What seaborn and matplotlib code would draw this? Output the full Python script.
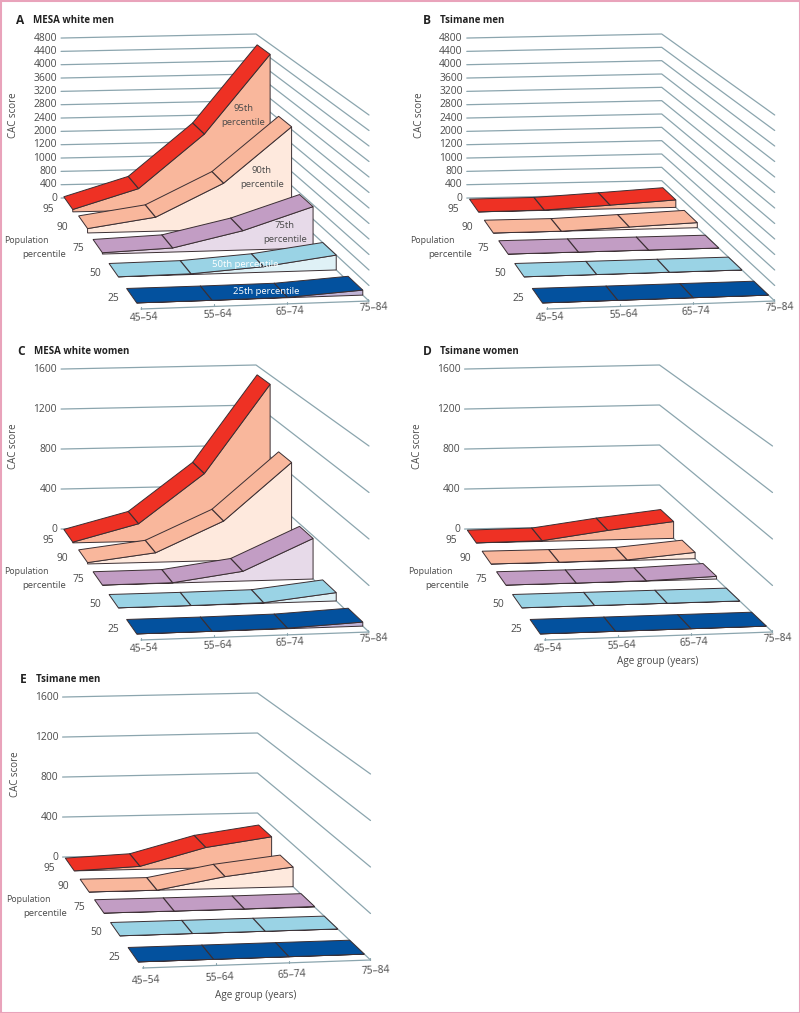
import matplotlib
matplotlib.use('Agg')
import matplotlib.pyplot as plt
from matplotlib.patches import Rectangle
import numpy as np
import pandas as pd
import seaborn as sns

age_groups = ['45–54', '55–64', '65–74', '75–84']
percentiles = [95, 90, 75, 50, 25]

# the men's MESA/Tsimane axis is not evenly spaced, the labels really do go 1000, 1200, 2000
ticks_men = [0, 400, 800, 1000, 1200, 2000, 2400, 2800, 3200, 3600, 4000, 4400, 4800]
ticks_women = [0, 400, 800, 1200, 1600]

# CAC score per percentile, one value per age group
mesa_men = {95: [70, 640, 2200, 4500],
            90: [125, 400, 1060, 2880],
            75: [36, 113, 536, 974],
            50: [0, 20, 150, 400],
            25: [0, 0, 10, 130]}
tsimane_men_b = {95: [0, 10, 110, 220],
                 90: [0, 0, 70, 145],
                 75: [0, 0, 0, 0],
                 50: [0, 0, 0, 0],
                 25: [0, 0, 0, 0]}
mesa_women = {95: [7, 173, 650, 1510],
              90: [13, 90, 375, 916],
              75: [0, 3, 90, 375],
              50: [0, 0, 5, 75],
              25: [0, 0, 5, 35]}
tsimane_women = {95: [0, 7, 93, 165],
                 90: [0, 0, 5, 60],
                 75: [0, 0, 2, 25],
                 50: [0, 0, 0, 0],
                 25: [0, 0, 0, 0]}
tsimane_men_e = {95: [0, 30, 200, 290],
                 90: [0, 0, 113, 187],
                 75: [0, 0, 1, 5],
                 50: [0, 0, 0, 0],
                 25: [0, 0, 0, 0]}

top_colors = {95: '#EE3124', 90: '#F9B79C', 75: '#C29DC4', 50: '#9AD3E5', 25: '#03519E'}
wall_colors = {95: '#F9B79C', 90: '#FEE9DD', 75: '#E7DAE9', 50: '#DFF1F6', 25: '#BFB3D6'}
edge_color = '#3B2F33'
grid_color = '#8BA5AE'
text_color = '#4A4A4A'

# depth of each strip on the floor, 0 is the back wall and 1 the age axis
strip_depth = {95: (0.01, 0.125), 90: (0.2, 0.315), 75: (0.385, 0.505), 50: (0.59, 0.71), 25: (0.815, 0.945)}

# label places relative to panel A, in pixels
pct_label_pos = {95: (48, 209), 90: (62, 227), 75: (78, 248), 50: (95, 273), 25: (113, 298)}
age_tick_x = [141, 214, 287, 368]
age_label_pos = [(144, 318), (218, 315), (290, 312), (374, 308)]

sns.set_theme(style='white')
plt.rcParams['font.family'] = ['Open Sans', 'DejaVu Sans']

fig = plt.figure(figsize=(8, 10.13), dpi=100)
ax = fig.add_axes([0, 0, 1, 1])


def project(age, depth, frac, dx, dy):
    # floor corners of panel A in pixels, the other panels are shifted copies
    bl, br = np.array([63.0, 198.0]), np.array([256.0, 194.0])
    fl, fr = np.array([141.0, 309.0]), np.array([369.0, 301.0])
    a = np.asarray(age) / 3
    d = np.asarray(depth)
    back_x = bl[0] + (br[0] - bl[0]) * a
    back_y = bl[1] + (br[1] - bl[1]) * a
    front_x = fl[0] + (fr[0] - fl[0]) * a
    front_y = fl[1] + (fr[1] - fl[1]) * a
    x = back_x + (front_x - back_x) * d
    y = back_y + (front_y - back_y) * d
    height = 160 + 26 * d
    return x + dx, y - height * np.asarray(frac) + dy


def draw_panel(values, ticks, letter, title, dx, dy, letter_x, xlabel_y=None, age_shift=0):
    frac_ticks = np.linspace(0, 1, len(ticks))

    # back wall and side wall lines
    rows = []
    for i, t in enumerate(frac_ticks):
        for age, depth in [(-0.03, 0), (3, 0), (3, 1)]:
            x, y = project(age, depth, t, dx, dy)
            rows.append({'tick': i, 'x': x, 'y': y})
    grid = pd.DataFrame(rows)
    sns.lineplot(data=grid, x='x', y='y', units='tick', estimator=None, sort=False,
                 color=grid_color, lw=0.9, ax=ax, zorder=1, legend=False)

    for i, t in enumerate(ticks):
        x, y = project(-0.03, 0, frac_ticks[i], dx, dy)
        ax.text(x - 4, y, str(t), ha='right', va='center', fontsize=7.4, color=text_color)

    # age axis with its small ticks
    xa, ya = project([0, 3], [1, 1], [0, 0], dx, dy)
    ax.plot(xa, ya, color=grid_color, lw=0.9, zorder=1)
    for k, lab in enumerate(age_groups):
        xt = age_tick_x[k] + dx
        yt = np.interp(xt, xa, ya)
        ax.plot([xt, xt], [yt, yt - 2], color=grid_color, lw=0.8, zorder=1)
        lx, ly = age_label_pos[k]
        ax.text(lx + dx, ly + dy + age_shift, lab, ha='center', va='center', rotation=3,
                fontsize=7.4, color=text_color)

    ages = np.arange(4)
    for p in percentiles:
        d0, d1 = strip_depth[p]
        frac = np.interp(values[p], ticks, frac_ticks)
        xb, yb = project(ages, d0, frac, dx, dy)
        xf, yf = project(ages, d1, frac, dx, dy)
        xg, yg = project(ages, d1, 0 * frac, dx, dy)

        ax.fill(np.r_[xf, xg[::-1]], np.r_[yf, yg[::-1]], facecolor=wall_colors[p],
                edgecolor=edge_color, lw=0.7, zorder=3)
        ax.fill(np.r_[xb, xf[::-1]], np.r_[yb, yf[::-1]], facecolor=top_colors[p],
                edgecolor=edge_color, lw=0.7, zorder=4)
        for k in [1, 2]:
            ax.plot([xb[k], xf[k]], [yb[k], yf[k]], color=edge_color, lw=0.9, zorder=5)

        px, py = pct_label_pos[p]
        ax.text(px + dx, py + dy, str(p), ha='center', va='center', fontsize=7.4, color=text_color)

    ax.text(14 + dx, 115 + dy, 'CAC score', rotation=90, ha='center', va='center', fontsize=7, color=text_color)
    ax.text(49 + dx, 240 + dy, 'Population', ha='right', va='center', fontsize=6.3, color=text_color)
    ax.text(66 + dx, 254 + dy, 'percentile', ha='right', va='center', fontsize=6.8, color=text_color)

    ax.text(letter_x, 20 + dy, letter, ha='center', va='center', fontsize=8.6, fontweight='bold', color='#222222')
    ax.text(letter_x + 13, 20 + dy, title, ha='left', va='center', fontsize=7, fontweight='bold', color='#222222')

    if xlabel_y is not None:
        ax.text(254 + dx, xlabel_y, 'Age group (years)', ha='center', va='center',
                fontsize=7.2, color=text_color)


draw_panel(mesa_men, ticks_men, 'A', 'MESA white men', 0, 0, 20)
draw_panel(tsimane_men_b, ticks_men, 'B', 'Tsimane men', 405.7, 0, 427)
draw_panel(mesa_women, ticks_women, 'C', 'MESA white women', 0, 331, 21)
draw_panel(tsimane_women, ticks_women, 'D', 'Tsimane women', 403.5, 331, 427, xlabel_y=661)
draw_panel(tsimane_men_e, ticks_women, 'E', 'Tsimane men', 1.5, 659, 23, xlabel_y=995, age_shift=4)

# labels written on the walls of panel A
wall_text = [('95th', 243, 108, text_color), ('percentile', 243, 122, text_color),
             ('90th', 262, 170, text_color), ('percentile', 262, 184, text_color),
             ('75th', 285, 225, text_color), ('percentile', 285, 239, text_color),
             ('50th percentile', 245, 264, 'white'), ('25th percentile', 266, 291, 'white')]
for s, x, y, c in wall_text:
    ax.text(x, y, s, ha='center', va='center', fontsize=6.8, color=c, zorder=6)

# frame of the page
ax.add_patch(Rectangle((0.5, 0.5), 799, 1012, fill=False, edgecolor='#E9A3BB', lw=1.5, zorder=10))

ax.set_xlim(0, 800)
ax.set_ylim(1013, 0)
ax.set_xlabel('')
ax.set_ylabel('')
ax.axis('off')

plt.savefig('out.png', dpi=100)
